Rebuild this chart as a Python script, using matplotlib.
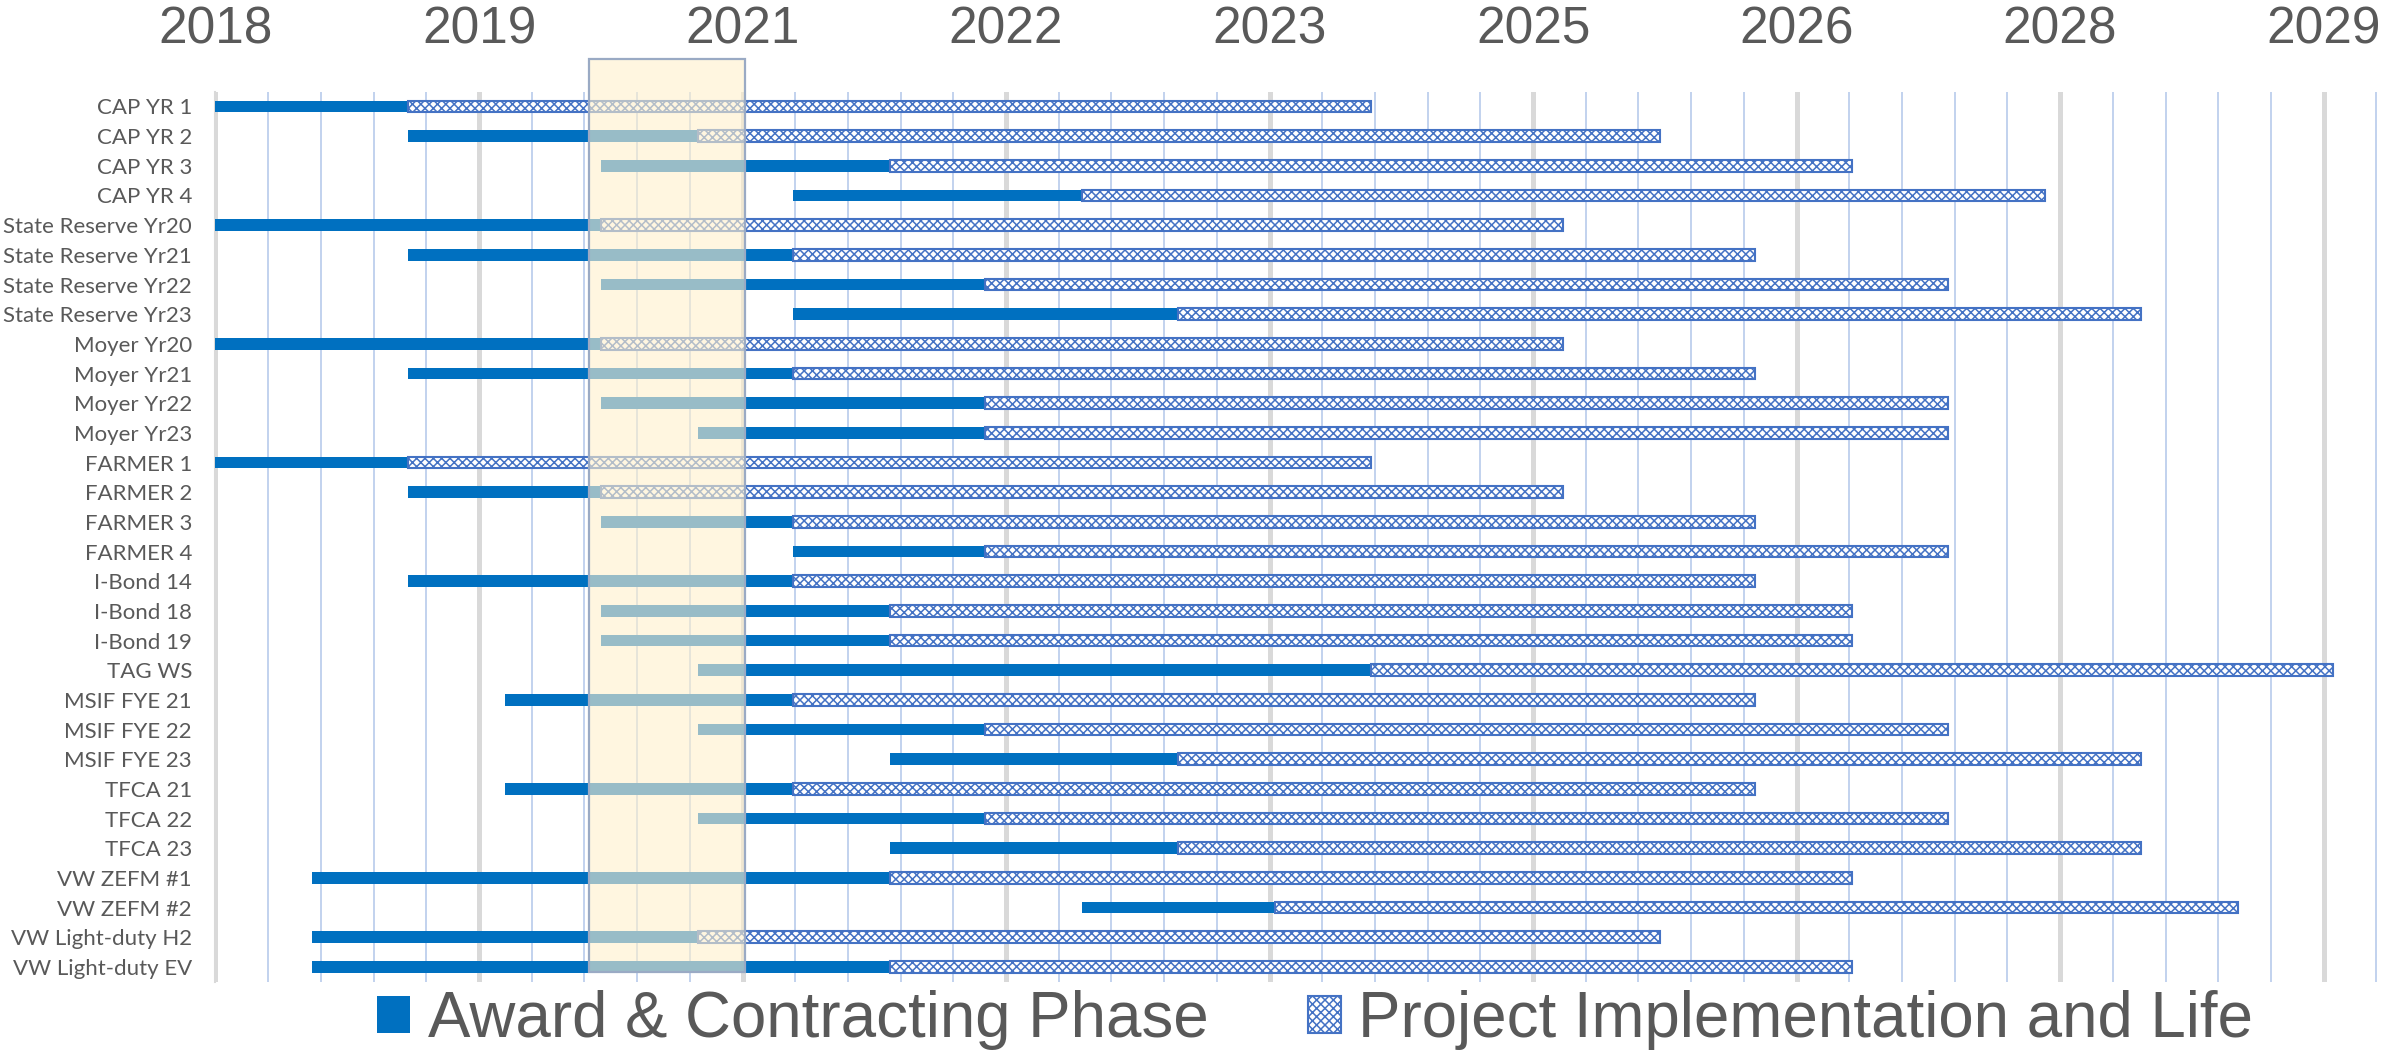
import numpy as np
import pandas as pd
import matplotlib
matplotlib.use("Agg")
import matplotlib.pyplot as plt
import matplotlib.dates as mdates
from matplotlib.patches import Rectangle

# rows, top to bottom
names = [
    "CAP YR 1", "CAP YR 2", "CAP YR 3", "CAP YR 4",
    "State Reserve Yr20", "State Reserve Yr21", "State Reserve Yr22", "State Reserve Yr23",
    "Moyer Yr20", "Moyer Yr21", "Moyer Yr22", "Moyer Yr23",
    "FARMER 1", "FARMER 2", "FARMER 3", "FARMER 4",
    "I-Bond 14", "I-Bond 18", "I-Bond 19", "TAG WS",
    "MSIF FYE 21", "MSIF FYE 22", "MSIF FYE 23",
    "TFCA 21", "TFCA 22", "TFCA 23",
    "VW ZEFM #1", "VW ZEFM #2", "VW Light-duty H2", "VW Light-duty EV",
]
award_start = [
    "2018-07-01", "2019-07-01", "2020-07-01", "2021-07-01",
    "2018-07-01", "2019-07-01", "2020-07-01", "2021-07-01",
    "2018-07-01", "2019-07-01", "2020-07-01", "2021-01-01",
    "2018-07-01", "2019-07-01", "2020-07-01", "2021-07-01",
    "2019-07-01", "2020-07-01", "2020-07-01", "2021-01-01",
    "2020-01-01", "2021-01-01", "2022-01-01",
    "2020-01-01", "2021-01-01", "2022-01-01",
    "2019-01-01", "2023-01-01", "2019-01-01", "2019-01-01",
]
impl_start = [
    "2019-07-01", "2021-01-01", "2022-01-01", "2023-01-01",
    "2020-07-01", "2021-07-01", "2022-07-01", "2023-07-01",
    "2020-07-01", "2021-07-01", "2022-07-01", "2022-07-01",
    "2019-07-01", "2020-07-01", "2021-07-01", "2022-07-01",
    "2021-07-01", "2022-01-01", "2022-01-01", "2024-07-01",
    "2021-07-01", "2022-07-01", "2023-07-01",
    "2021-07-01", "2022-07-01", "2023-07-01",
    "2022-01-01", "2024-01-01", "2021-01-01", "2022-01-01",
]
impl_end = [
    "2024-07-01", "2026-01-01", "2027-01-01", "2028-01-01",
    "2025-07-01", "2026-07-01", "2027-07-01", "2028-07-01",
    "2025-07-01", "2026-07-01", "2027-07-01", "2027-07-01",
    "2024-07-01", "2025-07-01", "2026-07-01", "2027-07-01",
    "2026-07-01", "2027-01-01", "2027-01-01", "2029-07-01",
    "2026-07-01", "2027-07-01", "2028-07-01",
    "2026-07-01", "2027-07-01", "2028-07-01",
    "2027-01-01", "2029-01-01", "2026-01-01", "2027-01-01",
]

axis_start = "2018-07-01"
highlight = ["2020-06-08", "2021-03-31"]

TEXT = "#595959"
BLUE = "#0070C0"
HATCH = "#4472C4"

plt.rcParams["hatch.linewidth"] = 1.1

a0 = mdates.date2num(pd.to_datetime(award_start))
a1 = mdates.date2num(pd.to_datetime(impl_start))
a2 = mdates.date2num(pd.to_datetime(impl_end))
x0 = mdates.date2num(pd.Timestamp(axis_start))
y = np.arange(len(names))

fig = plt.figure(figsize=(23.89, 10.51), dpi=100)
ax = fig.add_axes([0.0902, 0.0659, 0.9078, 0.8469])

award = ax.barh(y, a1 - a0, left=a0, height=0.4, color=BLUE, zorder=3,
                label="Award & Contracting Phase")
impl = ax.barh(y, a2 - a1, left=a1, height=0.4, color="white", edgecolor=HATCH,
               hatch="xxxx", linewidth=1.5, zorder=3,
               label="Project Implementation and Life")

ax.set_xlim(x0, x0 + 4115)
ax.set_ylim(29.5, -0.5)

ax.set_xticks(x0 + np.arange(0, 4001, 500))
ax.set_xticks(x0 + np.arange(0, 4101, 100), minor=True)
ax.xaxis.set_major_formatter(mdates.DateFormatter("%Y"))
ax.xaxis.tick_top()
ax.tick_params(axis="x", which="both", length=0, pad=27, labelsize=37, labelcolor=TEXT)
ax.grid(which="minor", axis="x", color="#C2D2EE", linewidth=1.4)
ax.grid(which="major", axis="x", color="#D9D9D9", linewidth=3.6)
ax.set_axisbelow(True)

ax.set_yticks(y)
ax.set_yticklabels(names, family=["Lato", "DejaVu Sans"])
ax.tick_params(axis="y", length=0, pad=17, labelsize=16, labelcolor=TEXT)

for s in ["top", "right", "bottom"]:
    ax.spines[s].set_visible(False)
ax.spines["left"].set_color("#D9D9D9")
ax.spines["left"].set_linewidth(1.5)

for lbl in ax.get_xticklabels():
    lbl.set_family(["Liberation Sans", "DejaVu Sans"])

# highlighted period drawn over the bars
h0, h1 = mdates.date2num(pd.to_datetime(highlight))
ax.add_patch(Rectangle((h0, -1.59), h1 - h0, 30.75, facecolor="#FFF0CC", alpha=0.6,
                       edgecolor="none", zorder=5, clip_on=False))
ax.add_patch(Rectangle((h0, -1.59), h1 - h0, 30.75, facecolor="none",
                       edgecolor="#9AAAC4", linewidth=1.6, zorder=6, clip_on=False))

fig.legend(handles=[award, impl], loc="center", bbox_to_anchor=(0.5505, 0.0295),
           ncol=2, frameon=False, labelcolor=TEXT,
           handlelength=0.52, handleheight=0.52, handletextpad=0.27,
           columnspacing=1.56, borderpad=0, borderaxespad=0,
           prop={"family": ["Liberation Sans", "DejaVu Sans"], "size": 45.8})

fig.savefig("out.png", dpi=100)
